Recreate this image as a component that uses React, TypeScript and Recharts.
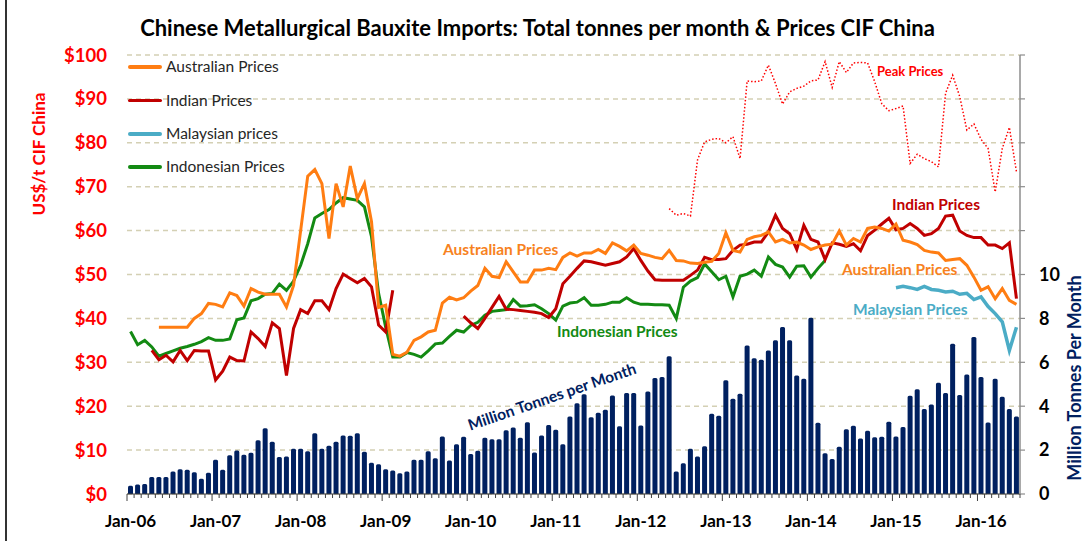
import React from "react";
import { Bar, CartesianGrid, ComposedChart, Line, XAxis, YAxis } from "recharts";

// months Jan-06 .. Jun-16
const monthNames = ["Jan", "Feb", "Mar", "Apr", "May", "Jun", "Jul", "Aug", "Sep", "Oct", "Nov", "Dec"];
const years = ["06", "07", "08", "09", "10", "11", "12", "13", "14", "15", "16"];
const lastYearMonths = 6;

// million tonnes per month (right axis)
const tonnes = [
  0.38, 0.43, 0.46, 0.78, 0.78, 0.78, 1.03, 1.13, 1.1, 0.99, 0.69, 0.97,
  1.56, 1.1, 1.77, 1.98, 1.79, 1.88, 2.45, 3.0, 2.38, 1.68, 1.71, 2.06,
  2.06, 1.95, 2.77, 2.06, 2.2, 2.38, 2.67, 2.65, 2.77, 1.92, 1.42, 1.35,
  1.13, 1.07, 0.95, 1.03, 1.56, 1.56, 1.95, 1.63, 2.62, 1.53, 2.27, 2.61,
  1.82, 1.97, 2.56, 2.49, 2.49, 2.91, 3.03, 2.56, 3.27, 1.89, 2.67, 3.14,
  2.93, 2.27, 3.53, 4.14, 4.54, 3.5, 3.7, 3.84, 4.49, 3.09, 4.6, 4.6,
  3.12, 4.67, 5.28, 5.33, 6.28, 1.03, 1.4, 2.06, 1.71, 2.18, 3.66, 3.57,
  5.18, 4.34, 4.57, 6.76, 6.19, 6.12, 6.54, 7.01, 7.61, 7.01, 5.4, 5.25,
  8.03, 3.25, 1.86, 1.6, 2.15, 2.95, 3.11, 2.53, 2.88, 2.58, 2.61, 3.29,
  2.62, 3.05, 4.48, 4.77, 3.87, 4.08, 5.07, 4.6, 6.85, 4.51, 5.44, 7.15,
  5.33, 3.26, 5.25, 4.43, 3.87, 3.53,
];

// US$/t CIF China (left axis); each series starts at the given month index
const australianStart = 4;
const australianPrices = [
  38.0, 38.0, 38.0, 38.0, 38.0, 40.0, 41.1, 43.4,
  43.2, 42.6, 45.8, 45.2, 42.8, 46.8, 46.0, 45.5, 45.5, 45.5, 42.6, 47.5,
  60.0, 72.4, 73.9, 70.7, 58.2, 70.7, 65.4, 74.7, 67.3, 70.7, 62.0, 42.5,
  43.0, 31.8, 31.4, 32.3, 35.0, 35.8, 36.9, 37.3, 43.5, 44.8, 44.2, 44.7,
  46.2, 47.5, 51.4, 49.6, 49.3, 52.9, 50.6, 48.3, 48.3, 51.0, 51.0, 51.4,
  51.1, 53.9, 54.9, 54.2, 54.9, 54.9, 55.7, 54.8, 57.2, 56.4, 55.4, 56.7,
  54.8, 54.4, 53.9, 53.6, 55.5, 53.2, 53.1, 52.6, 52.5, 52.8, 53.0, 54.8,
  59.5, 55.5, 55.1, 58.0, 58.6, 58.9, 59.7, 57.4, 58.0, 57.2, 57.4, 56.7,
  55.7, 56.3, 56.7, 56.9, 59.9, 56.7, 58.2, 57.4, 60.5, 60.8, 60.5, 59.9,
  61.5, 57.8, 57.4, 56.8, 55.5, 55.1, 54.9, 53.2, 53.4, 53.6, 52.1, 49.4,
  46.4, 47.2, 44.5, 46.8, 44.1, 43.2,
];

const indianStartA = 3;
const indianPricesA = [
  32.7, 30.6, 31.6, 30.1, 32.7, 30.4, 32.7, 32.6, 32.6,
  26.0, 28.0, 31.2, 30.4, 30.3, 36.9, 35.4, 33.6, 39.0, 37.7, 27.0, 37.7,
  42.0, 41.1, 44.0, 44.0, 42.0, 46.8, 50.1, 49.1, 48.1, 49.1, 47.2, 38.5,
  36.9, 46.4,
];
const indianStartB = 47;
const indianPricesB = [
  40.5,
  39.0, 37.7, 40.0, 42.5, 45.0, 42.1, 42.0, 41.8, 41.6, 41.4, 41.1, 40.2,
  42.2, 47.9, 49.6, 51.4, 53.1, 52.9, 52.5, 52.1, 52.5, 52.9, 54.0, 55.9,
  53.2, 50.8, 48.8, 48.7, 48.7, 48.7, 48.7, 49.8, 51.0, 53.9, 53.4, 53.4,
  53.6, 55.5, 56.7, 56.9, 57.4, 57.4, 59.7, 63.5, 60.5, 59.3, 55.7, 61.2,
  58.0, 57.4, 53.4, 57.2, 56.9, 56.4, 57.0, 55.4, 58.9, 60.1, 61.5, 62.8,
  60.2, 60.5, 61.6, 60.5, 58.9, 59.3, 60.5, 63.3, 63.5, 59.9, 58.9, 58.4,
  58.4, 56.7, 56.7, 55.9, 57.2, 44.5,
];

const malaysianStart = 108;
const malaysianPrices = [
  47.0, 47.3, 47.0, 46.6, 47.3, 46.6, 46.4, 46.0, 46.2, 45.5, 45.7, 44.3,
  44.9, 42.7, 41.1, 39.2, 32.7, 38.0,
];

const indonesianStart = 0;
const indonesianPrices = [
  37.0, 34.0, 35.0, 33.5, 31.4, 32.0, 32.6, 33.2, 33.6, 34.1, 34.7, 35.6,
  35.0, 35.0, 35.3, 39.7, 40.1, 44.0, 44.5, 45.5, 45.7, 47.8, 46.4, 48.5,
  52.1, 57.0, 62.9, 63.9, 64.8, 66.3, 67.5, 67.2, 66.9, 65.4, 58.6, 45.7,
  38.0, 31.2, 31.2, 32.2, 31.8, 31.2, 32.6, 34.2, 34.4, 35.9, 37.3, 36.9,
  38.4, 39.1, 40.7, 41.6, 41.8, 42.0, 44.3, 42.8, 42.9, 43.1, 42.2, 41.1,
  39.6, 42.8, 43.5, 43.7, 44.7, 43.0, 43.0, 43.2, 43.7, 43.7, 44.7, 43.7,
  43.2, 43.2, 43.1, 43.1, 43.0, 40.0, 47.1, 48.5, 49.3, 52.4, 50.6, 48.8,
  49.6, 44.9, 49.6, 50.1, 51.0, 49.6, 54.0, 52.3, 51.7, 49.4, 51.9, 52.0,
  49.4, 51.4, 53.2,
];

const peakStart = 76;
const peakPrices = [
  65.0, 63.5, 63.9, 63.3, 76.1, 80.2, 80.8, 81.0,
  80.0, 81.4, 76.4, 94.1, 93.9, 94.1, 97.7, 93.5, 88.8, 91.6, 92.4, 92.9,
  94.1, 94.3, 98.5, 92.6, 98.5, 96.0, 98.2, 98.3, 98.2, 93.9, 88.9, 87.3,
  87.8, 88.4, 75.3, 77.4, 76.4, 75.7, 74.5, 91.3, 95.4, 90.5, 82.9, 84.3,
  80.8, 78.7, 68.8, 78.7, 83.5, 73.4,
];

const priceTicks = [0, 10, 20, 30, 40, 50, 60, 70, 80, 90, 100];
const tonneTicks = [0, 2, 4, 6, 8, 10, 12, 14, 16, 18, 20];

const months: string[] = [];
years.forEach((y, yi) => {
  const n = yi === years.length - 1 ? lastYearMonths : 12;
  for (let m = 0; m < n; m++) months.push(`${monthNames[m]}-${y}`);
});

const pick = (arr: number[], start: number, i: number) =>
  i >= start && i - start < arr.length ? arr[i - start] : null;

const data = months.map((label, i) => ({
  label,
  tonnes: tonnes[i],
  australian: pick(australianPrices, australianStart, i),
  indian: pick(indianPricesA, indianStartA, i) ?? pick(indianPricesB, indianStartB, i),
  malaysian: pick(malaysianPrices, malaysianStart, i),
  indonesian: pick(indonesianPrices, indonesianStart, i),
  peak: pick(peakPrices, peakStart, i),
}));

const FONT = "Lato, 'Open Sans', sans-serif";
const PLOT_LEFT = 127;
const PLOT_RIGHT = 1020;
const PLOT_TOP = 55;
const PLOT_BOTTOM = 494;
const W = 1085;
const H = 541;

const AUS = "#ff7d12";
const IND = "#c00000";
const MAL = "#4bacc6";
const INDO = "#138a13";
const NAVY = "#002060";

function MonthTick(props: any) {
  const { x, y, payload, index } = props;
  const bw = (PLOT_RIGHT - PLOT_LEFT) / months.length;
  const left = x - bw / 2;
  const isJan = index % 12 === 0;
  return (
    <g>
      <line x1={left} x2={left} y1={y} y2={y + (isJan ? 7 : 4)} stroke="#404040" strokeWidth={1} />
      {index === months.length - 1 && (
        <line x1={x + bw / 2} x2={x + bw / 2} y1={y} y2={y + 4} stroke="#404040" strokeWidth={1} />
      )}
      {isJan && (
        <text
          x={x}
          y={y + 26}
          textAnchor="middle"
          dominantBaseline="central"
          fill="#000"
          fontSize={17}
          fontWeight={700}
          fontFamily={FONT}
        >
          {payload.value}
        </text>
      )}
    </g>
  );
}

function Note({ x, y, color, size = 15.5, children }: any) {
  return (
    <div
      style={{
        position: "absolute",
        left: x,
        top: y,
        transform: "translateY(-50%)",
        color,
        fontSize: size,
        fontWeight: 700,
        fontFamily: FONT,
        whiteSpace: "nowrap",
        lineHeight: 1,
      }}
    >
      {children}
    </div>
  );
}

const legendItems = [
  { name: "Australian Prices", color: AUS, y: 67 },
  { name: "Indian Prices", color: IND, y: 100.5 },
  { name: "Malaysian prices", color: MAL, y: 134 },
  { name: "Indonesian Prices", color: INDO, y: 167 },
];

export default function App() {
  return (
    <div style={{ position: "absolute", left: 0, top: 0, width: W, height: H, background: "#fff", fontFamily: FONT }}>
      <ComposedChart
        width={W}
        height={H}
        data={data}
        margin={{ top: PLOT_TOP, right: 0, bottom: 0, left: 0 }}
        barCategoryGap={0}
      >
        <CartesianGrid
          yAxisId="price"
          vertical={false}
          stroke="#d4d0b4"
          strokeWidth={1.5}
          strokeDasharray="5 4"
        />
        <XAxis
          dataKey="label"
          interval={0}
          height={H - PLOT_BOTTOM}
          tickLine={false}
          tickSize={0}
          tickMargin={0}
          axisLine={{ stroke: "#404040", strokeWidth: 1.2 }}
          tick={<MonthTick />}
        />
        <YAxis
          yAxisId="price"
          orientation="left"
          width={PLOT_LEFT}
          domain={[0, 100]}
          ticks={priceTicks}
          interval={0}
          axisLine={false}
          tickLine={false}
          tickSize={0}
          tickMargin={20}
          tickFormatter={(v) => `$${v}`}
          tick={{ fill: "#ff0000", fontSize: 18.5, fontWeight: 700, fontFamily: FONT }}
        />
        <YAxis
          yAxisId="tonnes"
          orientation="right"
          width={W - PLOT_RIGHT}
          domain={[0, 20]}
          ticks={tonneTicks}
          interval={0}
          axisLine={{ stroke: "#8c8c8c", strokeWidth: 1.5 }}
          tickLine={{ stroke: "#8c8c8c", strokeWidth: 1.2 }}
          tickSize={5}
          tickMargin={14}
          tickFormatter={(v) => (v <= 10 ? String(v) : "")}
          tick={{ fill: "#000", fontSize: 18, fontWeight: 700, fontFamily: FONT }}
        />
        <Bar
          yAxisId="tonnes"
          dataKey="tonnes"
          fill={NAVY}
          barSize={5}
          radius={[1.5, 1.5, 0, 0]}
          isAnimationActive={false}
        />
        <Line yAxisId="price" type="linear" dataKey="peak" stroke="#ff0000" strokeWidth={1.5}
          strokeDasharray="1.5 2" dot={false} isAnimationActive={false} />
        <Line yAxisId="price" type="linear" dataKey="indonesian" stroke={INDO} strokeWidth={3}
          dot={false} isAnimationActive={false} />
        <Line yAxisId="price" type="linear" dataKey="indian" stroke={IND} strokeWidth={3}
          dot={false} isAnimationActive={false} />
        <Line yAxisId="price" type="linear" dataKey="australian" stroke={AUS} strokeWidth={3}
          dot={false} isAnimationActive={false} />
        <Line yAxisId="price" type="linear" dataKey="malaysian" stroke={MAL} strokeWidth={3.5}
          dot={false} isAnimationActive={false} />
      </ComposedChart>

      {/* frame edge */}
      <div style={{ position: "absolute", left: 5, top: 0, width: 1.5, height: H, background: "#333" }} />

      {/* title */}
      <div
        style={{
          position: "absolute",
          left: 0,
          width: 1075,
          top: 28,
          transform: "translateY(-50%)",
          textAlign: "center",
          fontSize: 22,
          fontWeight: 700,
          color: "#000",
          lineHeight: 1,
          whiteSpace: "nowrap",
        }}
      >
        Chinese Metallurgical Bauxite Imports: Total tonnes per month &amp; Prices CIF China
      </div>

      {/* axis titles */}
      <div
        style={{
          position: "absolute",
          left: 38,
          top: 154,
          transform: "translate(-50%, -50%) rotate(-90deg)",
          color: "#ff0000",
          fontSize: 17,
          fontWeight: 700,
          whiteSpace: "nowrap",
          lineHeight: 1,
        }}
      >
        US$/t CIF China
      </div>
      <div
        style={{
          position: "absolute",
          left: 1074,
          top: 378,
          transform: "translate(-50%, -50%) rotate(-90deg)",
          color: NAVY,
          fontSize: 18,
          fontWeight: 700,
          whiteSpace: "nowrap",
          lineHeight: 1,
        }}
      >
        Million Tonnes Per Month
      </div>

      {/* legend */}
      {legendItems.map((it) => (
        <React.Fragment key={it.name}>
          <div
            style={{
              position: "absolute",
              left: 128,
              top: it.y - 1.75,
              width: 34,
              height: 3.5,
              borderRadius: 2,
              background: it.color,
            }}
          />
          <div
            style={{
              position: "absolute",
              left: 166,
              top: it.y,
              transform: "translateY(-50%)",
              fontSize: 15.5,
              color: "#262626",
              whiteSpace: "nowrap",
              lineHeight: 1,
            }}
          >
            {it.name}
          </div>
        </React.Fragment>
      ))}

      {/* in-chart labels */}
      <Note x={877} y={71} color="#ff0000" size={13}>Peak Prices</Note>
      <Note x={892} y={205} color={IND}>Indian Prices</Note>
      <Note x={443} y={250} color="#f7821e">Australian Prices</Note>
      <Note x={842} y={270} color="#f7821e">Australian Prices</Note>
      <Note x={853} y={310} color={MAL}>Malaysian Prices</Note>
      <Note x={557} y={332} color={INDO}>Indonesian Prices</Note>
      <div
        style={{
          position: "absolute",
          left: 552,
          top: 397,
          transform: "translate(-50%, -50%) rotate(-19deg)",
          color: NAVY,
          fontSize: 15.5,
          fontWeight: 700,
          whiteSpace: "nowrap",
          lineHeight: 1,
        }}
      >
        Million Tonnes per Month
      </div>
    </div>
  );
}
